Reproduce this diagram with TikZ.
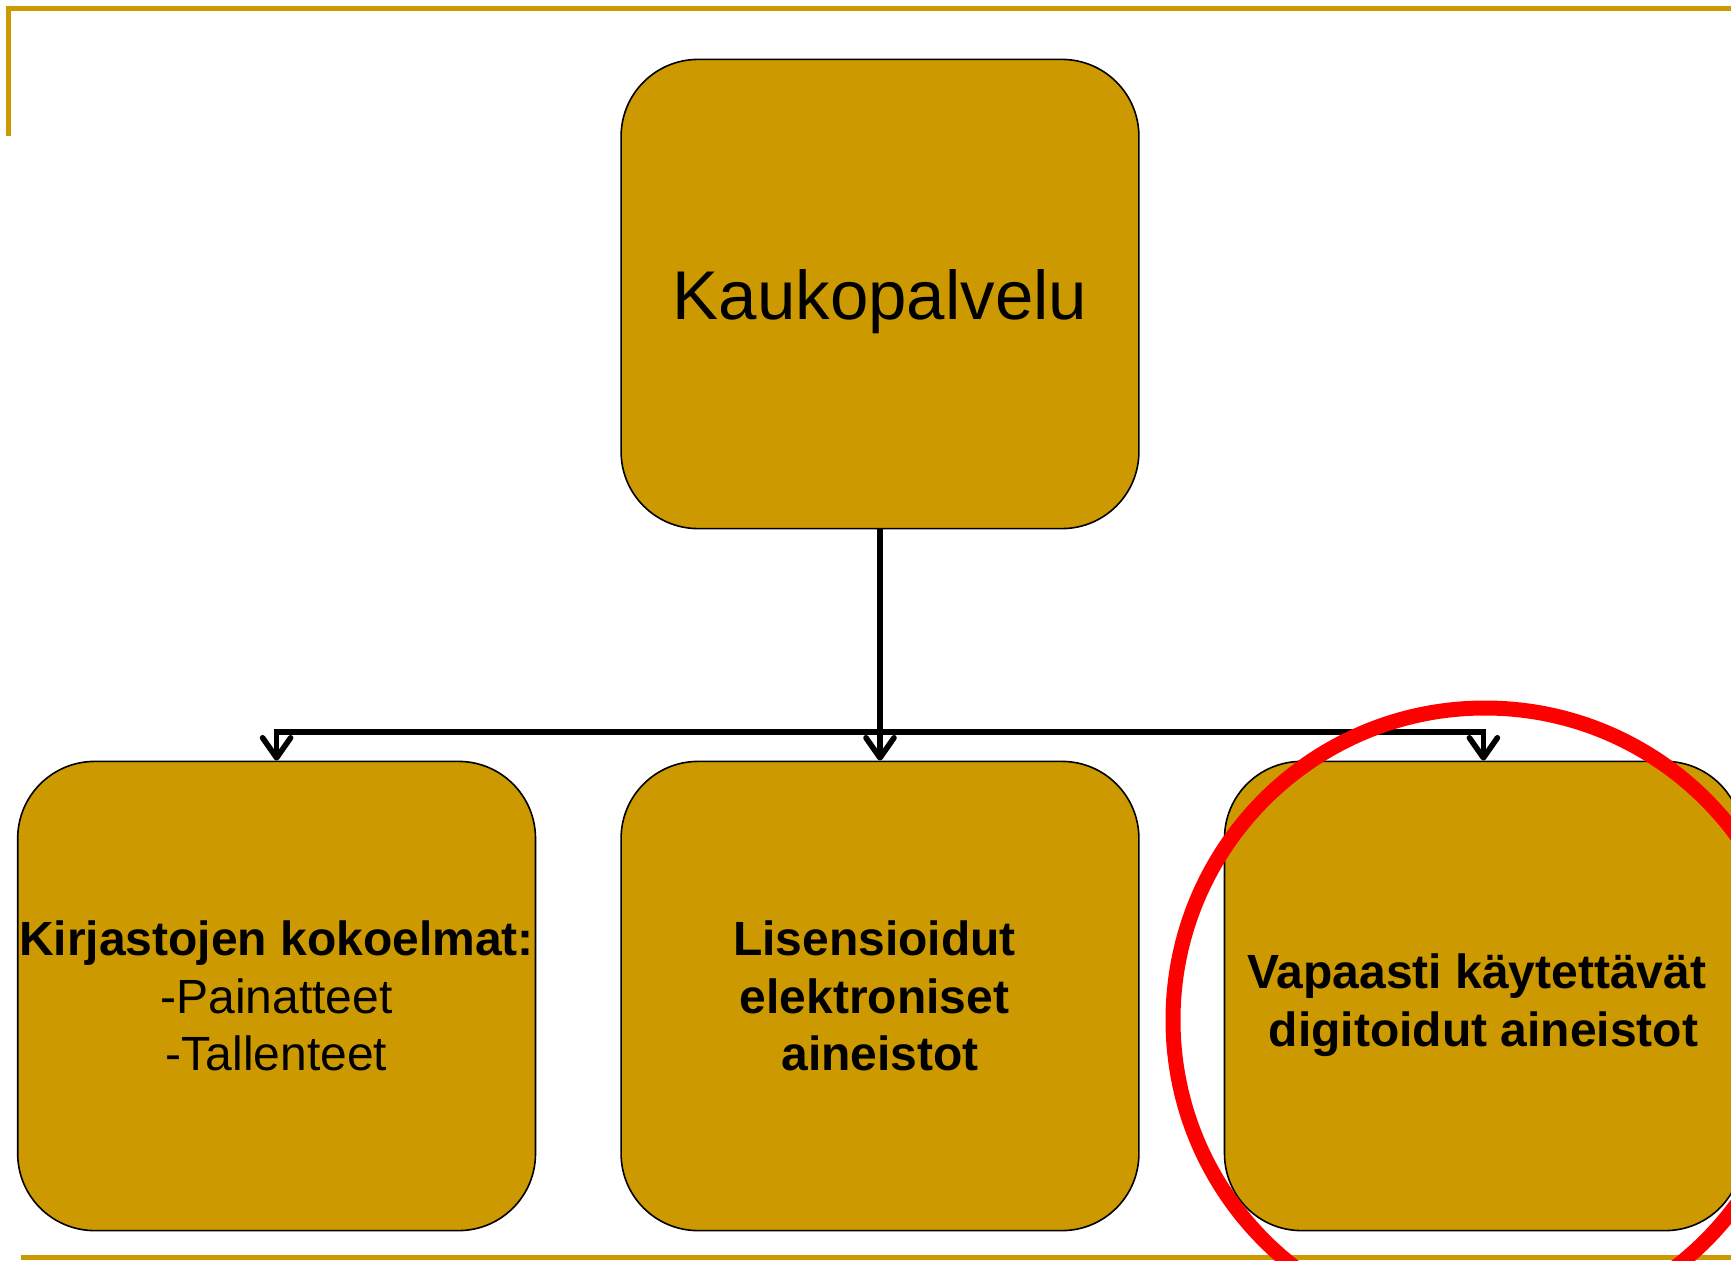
\documentclass[tikz,border=0pt]{standalone}
\usepackage{fontspec}
\setmainfont{Liberation Sans}
\usetikzlibrary{arrows.meta, positioning}
\definecolor{kulta}{RGB}{204,153,0}

\begin{document}
\begin{tikzpicture}[x=0.5pt, y=-0.5pt,
    node distance=42pt,
    >={Straight Barb[length=10pt,width=14pt,round]},
    laatikko/.style={draw=black, line width=0.8pt, fill=kulta,
        rounded corners=38.5pt, minimum width=258.9pt, minimum height=234.6pt,
        inner sep=0pt, align=center, font=\fontsize{24}{28.7}\selectfont},
    kehys/.style={draw=kulta, line width=2.5pt},
    yhteys/.style={line width=2.8pt}]

    \useasboundingbox (0,0) rectangle (1731,1260);

    % reunaviivat
    \draw[kehys] (8,136) -- (8,8) -- (1731,8);
    \draw[kehys] (21,1257) -- (1731,1257);

    \node[laatikko] (kauko) at (880,294)
        {\fontsize{34.5}{40}\selectfont\rule{0pt}{33pt}Kaukopalvelu};

    \node[laatikko] (lisenssi) at (880,996)
        {\textbf{Lisensioidut}\kern5.5pt\\ \textbf{elektroniset}\kern5.5pt\\ \textbf{aineistot}};
    \node[laatikko] (kirjasto) [left=of lisenssi]
        {\textbf{Kirjastojen kokoelmat:}\\ -Painatteet\\ -Tallenteet};
    \node[laatikko] (vapaa) [right=of lisenssi]
        {\rule{0pt}{26.5pt}\textbf{Vapaasti käytettävät}\kern6.5pt\\ \textbf{digitoidut aineistot}};

    \coordinate (haara) at (880,732);

    \draw[yhteys, ->] (kauko) -- (lisenssi);
    \draw[yhteys, ->] (haara) -| (kirjasto.north);
    \draw[yhteys, ->] (haara) -| (vapaa.north);

    % korostus
    \node[circle, draw=red, line width=7.5pt, minimum size=312pt] (rengas) at (1485,1020) {};
\end{tikzpicture}
\end{document}
